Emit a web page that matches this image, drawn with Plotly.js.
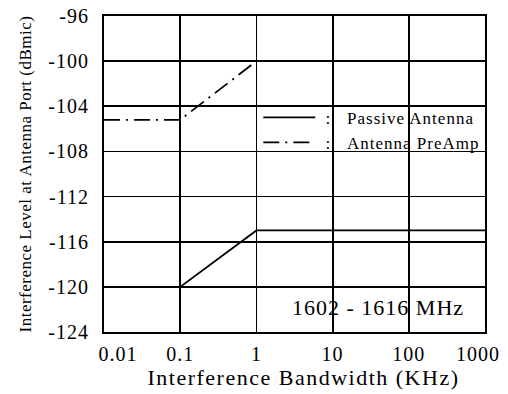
<!DOCTYPE html>
<html>
<head>
<meta charset="utf-8">
<script src="https://cdn.plot.ly/plotly-3.0.1.min.js"></script>
<style>
  html, body { margin: 0; padding: 0; background: #fff; }
  #chart { width: 508px; height: 394px; }
  .xtick text, .ytick text { letter-spacing: 1px; }
  .legendtext { letter-spacing: 1px; }
  .annotation-text { letter-spacing: 1px; }
  .g-xtitle text { letter-spacing: 1.5px; transform: translateX(9px); }
  .g-ytitle text { letter-spacing: 0.5px; }
</style>
</head>
<body>
<div id="chart"></div>
<script>
// Interference bandwidth (KHz)
const bandwidth = [0.01, 0.1, 1, 1000];
// Interference level (dBmic)
const passiveAntenna = [-120, -120, -115, -115];
const antennaPreAmp = [-105.2, -105.2, -100, -100];
const seriesNames = ['\u00a0:\u00a0\u00a0\u00a0Passive Antenna', '\u00a0:\u00a0\u00a0\u00a0Antenna PreAmp'];
const xTickVals = [0.01, 0.1, 1, 10, 100, 1000];
const xTickText = ['0.01', '0.1', '1', '10', '100', '1000'];
const yTickVals = [-124, -120, -116, -112, -108, -104, -100, -96];
const yTickText = ['-124', '-120', '-116', '-112', '-108', '-104', '-100', '-96'];
const bandLabel = '1602 - 1616 MHz';

const font = 'Liberation Serif';

const traces = [
  {
    x: bandwidth, y: passiveAntenna, type: 'scatter', mode: 'lines',
    name: seriesNames[0],
    line: { color: '#000', width: 1.8 }
  },
  {
    x: bandwidth, y: antennaPreAmp, type: 'scatter', mode: 'lines',
    name: seriesNames[1],
    line: { color: '#000', width: 1.8, dash: '16px,6px,2px,6px' }
  }
];

const layout = {
  width: 508, height: 394,
  margin: { l: 104, r: 23, t: 16, b: 62 },
  paper_bgcolor: '#fff', plot_bgcolor: '#fff',
  font: { family: font, color: '#000', size: 18 },
  showlegend: true,
  legend: {
    x: 0.405, y: 0.735, xanchor: 'left', yanchor: 'top',
    bgcolor: 'rgba(0,0,0,0)', borderwidth: 0,
    font: { family: font, size: 17, color: '#000' },
    itemwidth: 52, tracegroupgap: 0
  },
  xaxis: {
    type: 'log', range: [-2, 3],
    tickmode: 'array', tickvals: xTickVals, ticktext: xTickText,
    showgrid: true, gridcolor: '#000', gridwidth: 1.8,
    showline: true, linecolor: '#000', linewidth: 2, mirror: true,
    ticks: '', zeroline: false,
    ticklabelstandoff: 3,
    tickfont: { family: font, size: 20, color: '#000' },
    title: { text: 'Interference Bandwidth (KHz)', font: { family: font, size: 22, color: '#000' }, standoff: 4 }
  },
  yaxis: {
    range: [-124, -96],
    tickmode: 'array', tickvals: yTickVals, ticktext: yTickText,
    showgrid: true, gridcolor: '#000', gridwidth: 1.8,
    showline: true, linecolor: '#000', linewidth: 2, mirror: true,
    ticks: '', zeroline: false,
    ticklabelstandoff: 9,
    tickfont: { family: font, size: 20, color: '#000' },
    title: { text: 'Interference Level at Antenna Port (dBmic)', font: { family: font, size: 17, color: '#000' }, standoff: 12 }
  },
  annotations: [
    {
      x: Math.log10(39.5), y: -121.8, xref: 'x', yref: 'y',
      text: bandLabel, showarrow: false,
      xanchor: 'center', yanchor: 'middle',
      font: { family: font, size: 22, color: '#000' }
    }
  ]
};

Plotly.newPlot('chart', traces, layout, { displayModeBar: false, staticPlot: true }).then(function () {
  // nudge the outermost x tick labels inward, as in the reference
  const labels = document.querySelectorAll('.xaxislayer-above .xtick text');
  if (labels.length) {
    const shift = function (el, dx) {
      const t = el.getAttribute('transform') || '';
      el.setAttribute('transform', 'translate(' + dx + ',0) ' + t);
    };
    shift(labels[0], 14);
    shift(labels[labels.length - 1], -7);
  }
});
</script>
</body>
</html>
